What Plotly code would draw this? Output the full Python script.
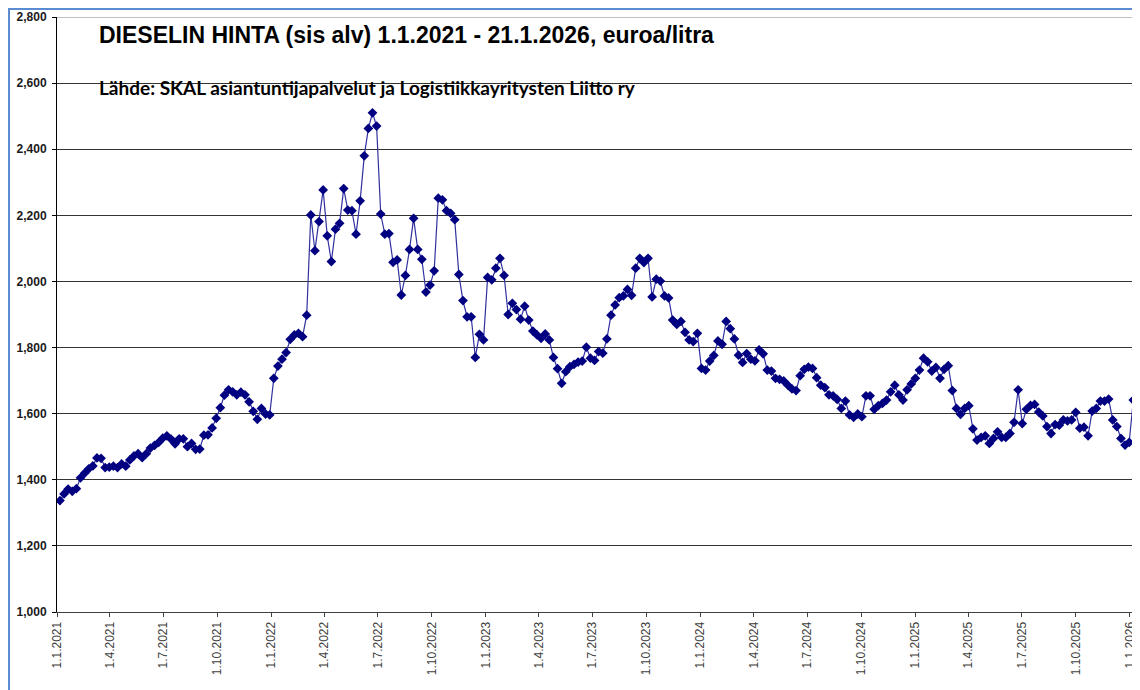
import pandas as pd
import plotly.graph_objects as go

# viikoittaiset hinnat (keskiviikko), euroa/litra, luettu kuvasta
hinta_2021 = [1.337, 1.357, 1.372, 1.365, 1.373, 1.406, 1.420, 1.433, 1.442, 1.466,
              1.465, 1.437, 1.438, 1.441, 1.437, 1.448, 1.441, 1.460, 1.472, 1.479,
              1.467, 1.479, 1.496, 1.504, 1.513, 1.526, 1.533, 1.523, 1.509, 1.524,
              1.524, 1.500, 1.510, 1.492, 1.493, 1.535, 1.536, 1.557, 1.586, 1.618,
              1.656, 1.672, 1.666, 1.657, 1.665, 1.657, 1.636, 1.607, 1.583, 1.616,
              1.599, 1.596]
hinta_2022 = [1.707, 1.744, 1.765, 1.785, 1.825, 1.838, 1.843, 1.833, 1.898, 2.201,
              2.093, 2.181, 2.277, 2.138, 2.060, 2.158, 2.176, 2.281, 2.216, 2.214,
              2.143, 2.244, 2.380, 2.463, 2.510, 2.470, 2.204, 2.143, 2.145, 2.058,
              2.065, 1.959, 2.018, 2.097, 2.191, 2.097, 2.067, 1.968, 1.989, 2.032,
              2.252, 2.247, 2.214, 2.206, 2.187, 2.021, 1.942, 1.893, 1.893, 1.770,
              1.840, 1.823]
hinta_2023 = [2.012, 2.005, 2.040, 2.070, 2.018, 1.900, 1.934, 1.915, 1.886, 1.925,
              1.883, 1.850, 1.838, 1.828, 1.841, 1.823, 1.770, 1.736, 1.692, 1.727,
              1.742, 1.749, 1.756, 1.759, 1.801, 1.768, 1.761, 1.788, 1.783, 1.826,
              1.898, 1.929, 1.951, 1.956, 1.976, 1.958, 2.040, 2.070, 2.057, 2.070,
              1.953, 2.007, 2.001, 1.956, 1.950, 1.883, 1.870, 1.879, 1.846, 1.823,
              1.818, 1.843]
hinta_2024 = [1.737, 1.732, 1.759, 1.776, 1.820, 1.810, 1.879, 1.857, 1.826, 1.777,
              1.755, 1.782, 1.765, 1.760, 1.793, 1.781, 1.732, 1.729, 1.707, 1.704,
              1.699, 1.686, 1.675, 1.670, 1.715, 1.734, 1.741, 1.737, 1.709, 1.686,
              1.679, 1.657, 1.654, 1.643, 1.616, 1.638, 1.596, 1.589, 1.599, 1.591,
              1.654, 1.654, 1.613, 1.624, 1.631, 1.641, 1.666, 1.686, 1.657, 1.641,
              1.672, 1.690]
hinta_2025 = [1.707, 1.732, 1.768, 1.757, 1.729, 1.740, 1.707, 1.734, 1.745, 1.670,
              1.616, 1.598, 1.616, 1.624, 1.554, 1.520, 1.528, 1.533, 1.510, 1.525,
              1.545, 1.528, 1.528, 1.540, 1.574, 1.672, 1.570, 1.613, 1.625, 1.628,
              1.605, 1.593, 1.561, 1.540, 1.567, 1.565, 1.581, 1.578, 1.581, 1.604,
              1.556, 1.559, 1.533, 1.608, 1.616, 1.638, 1.638, 1.644, 1.581, 1.561,
              1.525, 1.505, 1.513]
hinta_2026 = [1.641, 1.651, 1.677]

hinta = hinta_2021 + hinta_2022 + hinta_2023 + hinta_2024 + hinta_2025 + hinta_2026
pvm = pd.date_range("2021-01-06", periods=len(hinta), freq="7D")

# akselin merkinnat neljannesvuosittain
tick_pvm = ["2021-01-01", "2021-04-01", "2021-07-01", "2021-10-01",
            "2022-01-01", "2022-04-01", "2022-07-01", "2022-10-01",
            "2023-01-01", "2023-04-01", "2023-07-01", "2023-10-01",
            "2024-01-01", "2024-04-01", "2024-07-01", "2024-10-01",
            "2025-01-01", "2025-04-01", "2025-07-01", "2025-10-01",
            "2026-01-01"]
tick_teksti = ["1.1.2021", "1.4.2021", "1.7.2021", "1.10.2021",
               "1.1.2022", "1.4.2022", "1.7.2022", "1.10.2022",
               "1.1.2023", "1.4.2023", "1.7.2023", "1.10.2023",
               "1.1.2024", "1.4.2024", "1.7.2024", "1.10.2024",
               "1.1.2025", "1.4.2025", "1.7.2025", "1.10.2025",
               "1.1.2026"]

otsikko = "DIESELIN HINTA (sis alv) 1.1.2021 - 21.1.2026, euroa/litra"
lahde = "Lähde: SKAL asiantuntijapalvelut ja Logistiikkayritysten Liitto ry"

# sivulla on 8 px reunus, joten kuva on 1132x682
W, H = 1132, 682
L, T, B = 49, 9, 78
pw, ph = W - L, H - T - B

fig = go.Figure()
fig.add_trace(go.Scatter(
    x=pvm, y=hinta, mode="lines+markers",
    line=dict(color="#3030a0", width=1.2),
    marker=dict(symbol="diamond", size=7.5, color="#000080"),
    showlegend=False,
))

fig.update_layout(
    width=W, height=H,
    margin=dict(l=L, r=0, t=T, b=B, autoexpand=False),
    paper_bgcolor="white", plot_bgcolor="white",
    separators=",.",
    font=dict(family="Liberation Sans, Arial, sans-serif", color="#000"),
    xaxis=dict(
        range=["2021-01-01", "2026-01-18 10:00"],
        tickvals=tick_pvm, ticktext=tick_teksti, tickangle=-90,
        tickfont=dict(size=12, color="#404040"),
        showgrid=False, showline=True, linecolor="#404040", linewidth=1,
        ticks="outside", ticklen=4, tickcolor="#404040",
        zeroline=False,
    ),
    yaxis=dict(
        range=[1.0, 2.8], dtick=0.2, tick0=1.0, tickformat=",.3f",
        tickfont=dict(size=12, color="#1a1a1a", weight="bold"),
        ticklabelstandoff=3,
        showgrid=True, gridcolor="#333333", gridwidth=1,
        showline=True, linecolor="#000", linewidth=1,
        ticks="outside", ticklen=4, tickcolor="#000",
        zeroline=False,
    ),
    annotations=[
        dict(text="<b>" + otsikko + "</b>", xref="paper", yref="paper",
             x=(89 - L) / pw, y=(604 - 27) / ph, xanchor="left", yanchor="middle",
             showarrow=False,
             font=dict(size=23, family="Liberation Sans, Arial, sans-serif", color="#000")),
        dict(text="<b>" + lahde + "</b>", xref="paper", yref="paper",
             x=(89 - L) / pw, y=(604 - 79) / ph, xanchor="left", yanchor="middle",
             showarrow=False,
             font=dict(size=19, family="Lato, Open Sans, sans-serif", color="#000")),
    ],
    shapes=[
        # ylin ruudukkoviiva vaaleana
        dict(type="line", xref="paper", yref="y", x0=0, x1=1, y0=2.8, y1=2.8,
             line=dict(color="#c0c0c0", width=2), layer="above"),
        # kaavion kehys (sininen)
        dict(type="rect", xref="paper", yref="paper",
             x0=(1 - L) / pw, x1=1.05, y0=-0.2, y1=(604 - 1) / ph,
             line=dict(color="#5b8bd0", width=2), layer="below"),
    ],
)

fig.write_html("out.html")
